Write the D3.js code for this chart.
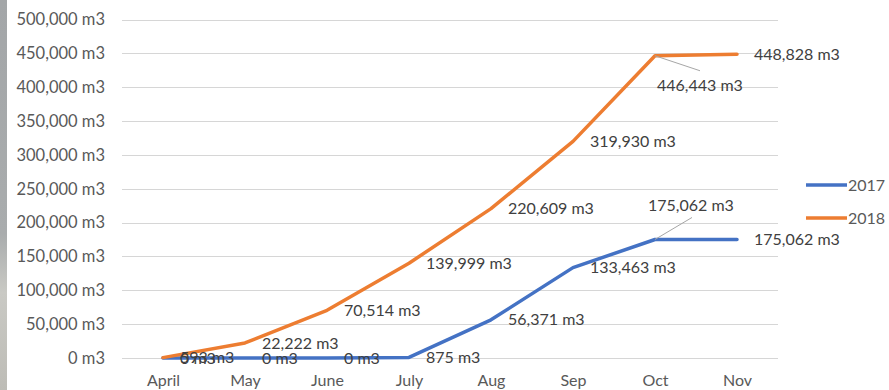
<!DOCTYPE html>
<html>
<head>
<meta charset="utf-8">
<script src="https://cdn.jsdelivr.net/npm/d3@7"></script>
<style>
  html, body { margin: 0; padding: 0; background: #ffffff; }
  svg { display: block; }
  text { font-family: Lato, "Open Sans", sans-serif; }
</style>
</head>
<body>
<svg id="chart" width="889" height="390"></svg>
<script>
// Monthly cumulative volumes
const months = ["April", "May", "June", "July", "Aug", "Sep", "Oct", "Nov"];
const vol2017 = [0, 0, 0, 875, 56371, 133463, 175062, 175062];
const vol2018 = [593, 22222, 70514, 139999, 220609, 319930, 446443, 448828];
const yTicks = [0, 50000, 100000, 150000, 200000, 250000, 300000, 350000, 400000, 450000, 500000];

const seriesList = [
  { name: "2017", values: vol2017, color: "#4472C4" },
  { name: "2018", values: vol2018, color: "#ED7D31" }
];

// Labels that sit away from their point, with a leader line
const movedLabels = {
  "2017-Oct": { dx: -7, dy: -34, lx: 37, ly: -22 },
  "2018-Oct": { dx: 2, dy: 30, lx: 45, ly: 15 }
};

const fmt = v => d3.format(",")(v) + " m3";

const svg = d3.select("#chart");

// Grey strip along the left edge
const grad = svg.append("defs").append("linearGradient")
  .attr("id", "strip").attr("x1", 0).attr("y1", 0).attr("x2", 0).attr("y2", 1);
grad.append("stop").attr("offset", "0").attr("stop-color", "#a3a6a8");
grad.append("stop").attr("offset", "0.6").attr("stop-color", "#a9acad");
grad.append("stop").attr("offset", "0.75").attr("stop-color", "#c9c9c4");
grad.append("stop").attr("offset", "1").attr("stop-color", "#bdbcb6");
svg.append("rect").attr("x", 0).attr("y", 0).attr("width", 7).attr("height", 390)
  .attr("fill", "url(#strip)");

const x = d3.scalePoint().domain(months).range([122, 778]).padding(0.5);
const y = d3.scaleLinear().domain([0, 500000]).range([358, 19.5]);

// Horizontal gridlines
svg.append("g").selectAll("line").data(yTicks).join("line")
  .attr("x1", 122).attr("x2", 778)
  .attr("y1", d => Math.round(y(d)) + 0.5).attr("y2", d => Math.round(y(d)) + 0.5)
  .attr("stroke", "#d6d6d6").attr("stroke-width", 1);

// Y axis labels
const yAxis = svg.append("g").attr("transform", "translate(105,0)")
  .call(d3.axisLeft(y).tickValues(yTicks).tickFormat(fmt).tickSize(0).tickPadding(0));
yAxis.select(".domain").remove();
yAxis.selectAll("text").attr("font-size", 16.5).attr("fill", "#595959")
  .style("font-family", "Lato, 'Open Sans', sans-serif");

// X axis labels
const xAxis = svg.append("g").attr("transform", "translate(0,369)")
  .call(d3.axisBottom(x).tickSize(0).tickPadding(6));
xAxis.select(".domain").remove();
xAxis.selectAll("text").attr("font-size", 16).attr("fill", "#595959")
  .style("font-family", "Lato, 'Open Sans', sans-serif");

// Lines
const line = d3.line().x((d, i) => x(months[i])).y(d => y(d));
svg.append("g").selectAll("path").data(seriesList).join("path")
  .attr("d", s => line(s.values))
  .attr("fill", "none")
  .attr("stroke", s => s.color)
  .attr("stroke-width", 3.5)
  .attr("stroke-linejoin", "round")
  .attr("stroke-linecap", "round");

// Data labels
const labelG = svg.append("g");
seriesList.forEach(s => {
  s.values.forEach((v, i) => {
    const px = x(months[i]), py = y(v);
    const moved = movedLabels[s.name + "-" + months[i]];
    if (moved) {
      labelG.append("line")
        .attr("x1", px).attr("y1", py)
        .attr("x2", px + moved.lx).attr("y2", py + moved.ly)
        .attr("stroke", "#a6a6a6").attr("stroke-width", 1);
    }
    labelG.append("text")
      .attr("x", moved ? px + moved.dx : px + 17)
      .attr("y", moved ? py + moved.dy : py)
      .attr("dy", "0.35em")
      .attr("font-size", 16)
      .attr("fill", "#404040")
      .text(fmt(v));
  });
});

// Legend
const legend = svg.append("g").selectAll("g").data(seriesList).join("g")
  .attr("transform", (d, i) => `translate(806,${185 + i * 33})`);
legend.append("line").attr("x1", 0).attr("x2", 41).attr("y1", 0).attr("y2", 0)
  .attr("stroke", d => d.color).attr("stroke-width", 3.5);
legend.append("text").attr("x", 42).attr("dy", "0.35em")
  .attr("font-size", 16).attr("fill", "#595959").text(d => d.name);
</script>
</body>
</html>
